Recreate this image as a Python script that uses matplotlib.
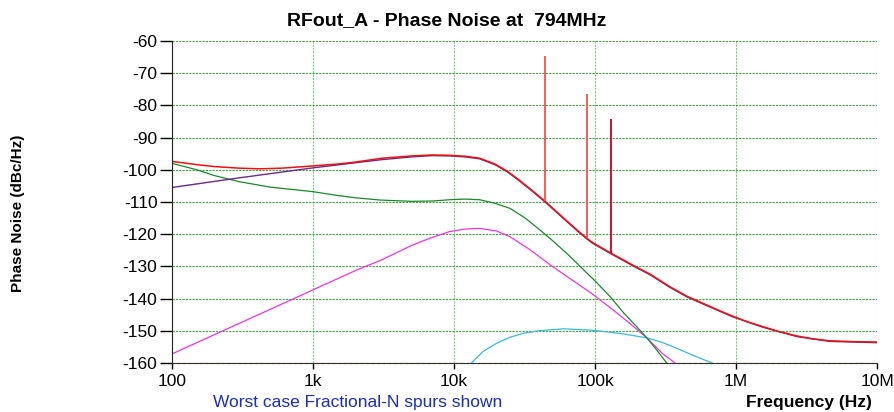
import matplotlib
matplotlib.use('Agg')
import matplotlib.pyplot as plt
import matplotlib.ticker as ticker

plt.rcParams['font.family'] = ['Liberation Sans', 'DejaVu Sans']
plt.rcParams['axes.unicode_minus'] = False

# total phase noise (red)
f_total = [100, 150, 200, 300, 420, 600, 1e3, 1.5e3, 2e3, 3.1e3, 5e3, 7e3, 9.3e3, 12e3,
           15.2e3, 19.5e3, 24e3, 29e3, 36e3, 44e3, 60e3, 75e3, 87.7e3, 96e3, 130e3, 180e3,
           250e3, 339e3, 450e3, 585e3, 750e3, 0.94e6, 1.2e6, 1.55e6, 2e6, 2.7e6, 3.5e6,
           4.6e6, 7e6, 1e7]
pn_total = [-97.4, -98.4, -99.0, -99.5, -99.7, -99.5, -98.8, -98.2, -97.6, -96.4, -95.7,
            -95.4, -95.5, -95.8, -96.4, -98.2, -100.5, -103.2, -106.5, -109.7, -115.0,
            -118.8, -121.3, -122.6, -125.9, -129.3, -132.6, -136.3, -139.3, -141.5, -143.6,
            -145.4, -147.2, -148.7, -150.2, -151.6, -152.5, -153.1, -153.4, -153.5]

# purple contribution
f_purple = [100, 300, 1e3, 3e3, 5e3, 7e3, 9.3e3, 12e3, 15.2e3, 19.5e3, 24e3, 29e3, 36e3,
            44e3, 60e3, 75e3, 87.7e3, 96e3, 130e3, 180e3, 250e3, 339e3, 450e3, 585e3,
            0.94e6, 1.55e6, 2.7e6, 4.6e6, 1e7]
pn_purple = [-105.5, -102.5, -99.4, -96.9, -96.0, -95.6, -95.7, -96.0, -96.6, -98.4,
             -100.7, -103.4, -106.7, -109.9, -115.2, -119.0, -121.5, -122.8, -126.1,
             -129.5, -132.8, -136.5, -139.5, -141.7, -145.6, -148.9, -151.8, -153.3, -153.7]

# green contribution
f_green = [100, 150, 200, 300, 500, 1e3, 1.5e3, 2e3, 3e3, 5e3, 7e3, 9.3e3, 12e3, 15.2e3,
           19.5e3, 25e3, 32e3, 40.7e3, 50e3, 65e3, 87.7e3, 100e3, 128e3, 160e3, 200e3,
           233e3, 280e3, 322e3, 360e3]
pn_green = [-98.0, -100.0, -101.8, -103.7, -105.4, -106.8, -108.0, -108.7, -109.4, -109.8,
            -109.7, -109.3, -109.1, -109.3, -110.4, -112.0, -115.0, -118.7, -122.0, -126.5,
            -132.1, -134.5, -139.4, -144.5, -149.0, -152.2, -156.5, -160.0, -163.0]

# magenta contribution
f_magenta = [100, 200, 500, 1e3, 2e3, 3.1e3, 5e3, 6.7e3, 9.3e3, 12e3, 15.2e3, 20e3, 25e3,
             34.8e3, 48e3, 65e3, 94e3, 130e3, 180e3, 233e3, 300e3, 369e3, 420e3]
pn_magenta = [-157.2, -151.2, -143.3, -137.3, -131.3, -127.9, -123.5, -121.3, -119.2,
              -118.4, -118.2, -119.0, -120.8, -124.9, -129.5, -133.5, -138.3, -143.0,
              -148.0, -152.2, -157.0, -160.0, -162.5]

# cyan contribution
f_cyan = [12e3, 13.3e3, 16e3, 20e3, 25e3, 31e3, 40e3, 59.6e3, 94e3, 150e3, 233e3, 300e3,
          378e3, 500e3, 676e3, 800e3]
pn_cyan = [-163.5, -160.0, -156.5, -153.9, -152.0, -150.8, -150.0, -149.4, -149.8, -150.8,
           -152.2, -153.6, -155.4, -157.7, -160.0, -161.5]

# fractional-N spurs: frequency, top, base
spur_f = [44e3, 87.7e3, 130.6e3]
spur_top = [-64.7, -76.6, -84.2]
spur_base = [-109.7, -121.3, -125.9]
spur_colors = ['#f25050', '#f25050', '#c8001e']

x_ticks = [100, 1e3, 1e4, 1e5, 1e6, 1e7]
x_labels = ['100', '1k', '10k', '100k', '1M', '10M']
y_ticks = list(range(-160, -50, 10))

fig = plt.figure(figsize=(8.94, 4.12), dpi=100)
ax = fig.add_axes([0.1924, 0.119, 0.7886, 0.7815])

ax.plot(f_cyan, pn_cyan, color='#3ab8dc', lw=0.9)
ax.plot(f_magenta, pn_magenta, color='#ee33dd', lw=0.9)
ax.plot(f_green, pn_green, color='#178a2a', lw=0.9)
ax.plot(f_purple, pn_purple, color='#6a2a8a', lw=1.0)
ax.plot(f_total, pn_total, color='#ee1111', lw=1.1)
for i in range(len(spur_f)):
    ax.vlines(spur_f[i], spur_base[i], spur_top[i], color=spur_colors[i], lw=1.3)

ax.set_xscale('log')
ax.set_xlim(100, 1e7)
ax.set_ylim(-160, -60)
ax.xaxis.set_major_locator(ticker.FixedLocator(x_ticks))
ax.xaxis.set_minor_locator(ticker.NullLocator())
ax.set_xticklabels(x_labels)
ax.set_yticks(y_ticks)

ax.grid(axis='y', color='#2f962f', ls=(0, (2, 1)), lw=0.8, alpha=0.9)
ax.grid(axis='x', color='#7ccc7c', ls=(0, (2, 1)), lw=0.8)
ax.set_axisbelow(True)

ax.spines['top'].set_visible(False)
ax.spines['right'].set_visible(False)
ax.spines['left'].set_color('#222222')
ax.spines['bottom'].set_color('#333333')
ax.axhline(-160, color='#e08a30', ls=(0, (1, 3)), lw=1.0, clip_on=False, zorder=2.5)

ax.tick_params(axis='y', length=9, width=1, pad=1.5, labelsize=12.5, direction='out')
ax.tick_params(axis='x', length=4, width=1, pad=4, labelsize=12.5, direction='out')

fig.text(0.5, 0.951, 'RFout_A - Phase Noise at  794MHz', ha='center', va='center',
         fontsize=14, fontweight='bold')
fig.text(0.02, 0.483, 'Phase Noise (dBc/Hz)', ha='center', va='center', rotation=90,
         fontsize=11, fontweight='bold')
fig.text(0.975, 0.022, 'Frequency (Hz)', ha='right', va='center',
         fontsize=12.5, fontweight='bold')
fig.text(0.238, 0.022, 'Worst case Fractional-N spurs shown', ha='left', va='center',
         fontsize=12.5, color='#1a2dbf')

plt.savefig('out.png', dpi=100)
